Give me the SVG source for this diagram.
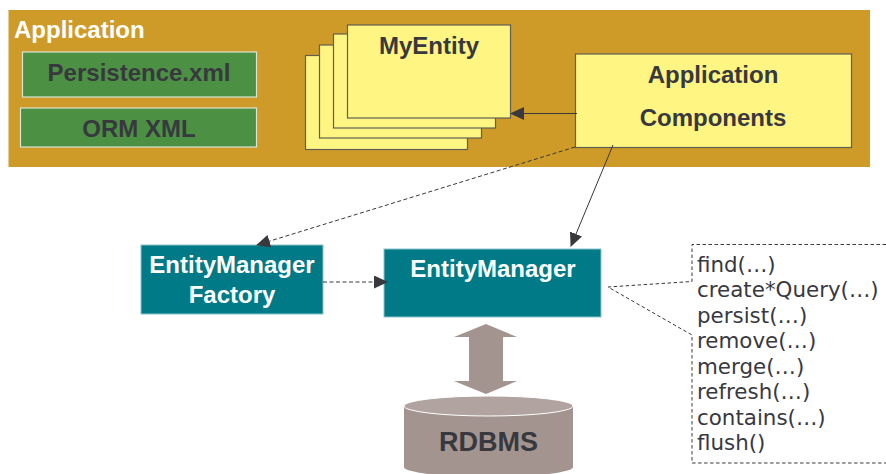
<svg xmlns="http://www.w3.org/2000/svg" width="886" height="474" viewBox="0 0 886 474">
<style>
text{font-family:"Liberation Sans",Arial,sans-serif;font-weight:bold;font-size:24px;fill:#38383f;text-anchor:middle}
.w{fill:#fff}
.card{fill:#fff583;stroke:#5f5f55;stroke-width:1.2}
.green{fill:#4c9044;stroke:#d8e4d4;stroke-width:1.2}
.teal{fill:#007a87;stroke:#8ac4cb;stroke-width:1}
.c{fill:none;stroke:#38383f;stroke-width:1}
.d{stroke-dasharray:4 2.5}
.m{font-family:"DejaVu Sans",Verdana,sans-serif;font-weight:normal;font-size:21.4px;text-anchor:start}
</style>
<defs>
<marker id="a" markerUnits="userSpaceOnUse" markerWidth="15" markerHeight="14" refX="13" refY="6.5" orient="auto"><path d="M0 0L14 6.5L0 13Z" fill="#38383f"/></marker>
</defs>
<g id="application"><rect x="8.5" y="10" width="861.500" height="157" fill="#ce9b28"/><text class="w" x="14" y="38" style="text-anchor:start">Application</text></g>
<g id="persistence"><rect class="green" x="22.500" y="52" width="234" height="45"/><text x="139" y="81">Persistence.xml</text></g>
<g id="orm"><rect class="green" x="20.500" y="108" width="236" height="39"/><text x="139" y="137">ORM XML</text></g>
<g id="myentity">
<rect class="card" x="305.500" y="55.500" width="162" height="94"/>
<rect class="card" x="319.500" y="45" width="162" height="93"/>
<rect class="card" x="333.500" y="34" width="162" height="94"/>
<rect class="card" x="347.500" y="25" width="163" height="93"/>
<text x="429" y="54">MyEntity</text></g>
<g id="components"><rect class="card" x="575.500" y="54" width="276" height="93.500"/><text x="713" y="83">Application</text><text x="713" y="126">Components</text></g>
<g id="emf"><rect class="teal" x="141" y="245" width="182" height="69"/><text class="w" x="232" y="273">EntityManager</text><text class="w" x="232" y="303">Factory</text></g>
<g id="em"><rect class="teal" x="384" y="249" width="217" height="68"/><text class="w" x="493" y="277">EntityManager</text></g>
<g id="exchange"><path d="M486 324L517 337H503V381H517L486 394L454 381H469V337H454Z" fill="#a39490"/></g>
<g id="rdbms"><path d="M404 406V467A84.500 10 0 0 0 573 467V406Z" fill="#a39490"/><ellipse cx="488.500" cy="406" rx="84.500" ry="10" fill="#b0a3a0" stroke="#fff" stroke-width="1"/><text x="488.500" y="451" style="font-size:27px">RDBMS</text></g>
<g id="methods"><path d="M886 244.500H692V281.500L608 287L692 335V463H886" fill="#fff" stroke="#38383f" stroke-width="1" stroke-dasharray="3.500 2.500"/>
<text class="m" x="697" y="271.500">find(…)</text>
<text class="m" x="697" y="297">create*Query(…)</text>
<text class="m" x="697" y="322.500">persist(…)</text>
<text class="m" x="697" y="348">remove(…)</text>
<text class="m" x="697" y="373.500">merge(…)</text>
<text class="m" x="697" y="399">refresh(…)</text>
<text class="m" x="697" y="424.500">contains(…)</text>
<text class="m" x="697" y="450">flush()</text></g>
<g id="connectors">
<path class="c" d="M577 113.500H511" marker-end="url(#a)"/>
<path class="c d" d="M575 147L257 245" marker-end="url(#a)"/>
<path class="c" d="M613 145L571 246" marker-end="url(#a)"/>
<path class="c d" d="M323 282H387" marker-end="url(#a)"/>
</g>
</svg>
